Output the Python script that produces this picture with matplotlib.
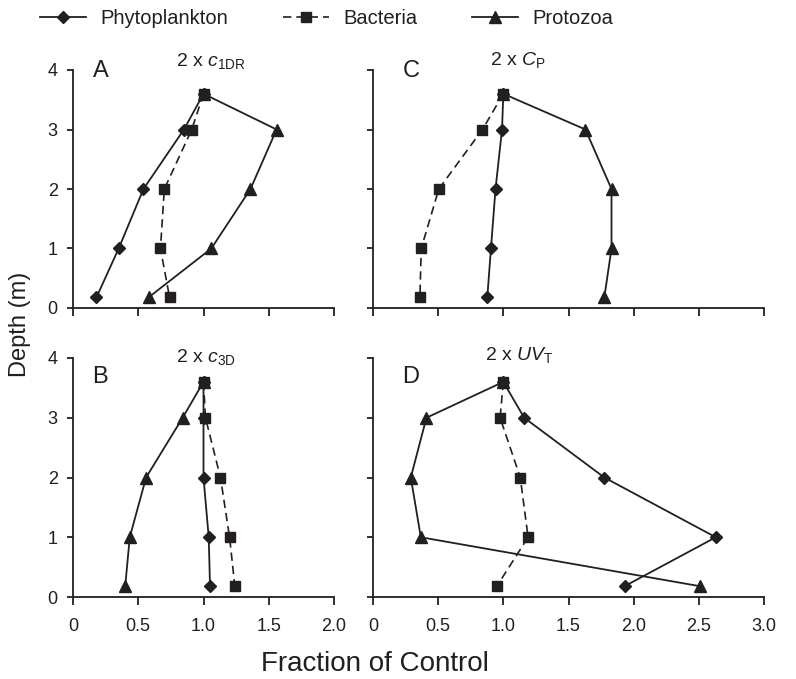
import matplotlib
matplotlib.use("Agg")
import matplotlib.pyplot as plt
from matplotlib.lines import Line2D

# depth of each sample (m), surface sample first
depth = [3.6, 3, 2, 1, 0.18]

# panel A: 2 x c1DR
a_phyto = [1.0, 0.85, 0.54, 0.35, 0.18]
a_bact = [1.0, 0.91, 0.70, 0.67, 0.74]
a_proto = [1.0, 1.56, 1.36, 1.06, 0.58]

# panel B: 2 x c3D
b_phyto = [1.0, 1.0, 1.0, 1.04, 1.05]
b_bact = [1.0, 1.015, 1.13, 1.20, 1.24]
b_proto = [1.0, 0.84, 0.56, 0.435, 0.40]

# panel C: 2 x CP
c_phyto = [1.0, 0.99, 0.94, 0.905, 0.877]
c_bact = [1.0, 0.84, 0.505, 0.37, 0.36]
c_proto = [1.0, 1.63, 1.83, 1.83, 1.775]

# panel D: 2 x UVT
d_phyto = [1.0, 1.16, 1.775, 2.63, 1.93]
d_bact = [1.0, 0.975, 1.13, 1.19, 0.95]
d_proto = [1.0, 0.41, 0.29, 0.367, 2.51]

left_ticks = [0, 0.5, 1.0, 1.5, 2.0]
left_labels = ["0", "0.5", "1.0", "1.5", "2.0"]
right_ticks = [0, 0.5, 1.0, 1.5, 2.0, 2.5, 3.0]
right_labels = ["0", "0.5", "1.0", "1.5", "2.0", "2.5", "3.0"]
depth_ticks = [0, 1, 2, 3, 4]

ink = "#231f20"
plt.rcParams["font.family"] = ["Liberation Sans", "DejaVu Sans"]
plt.rcParams["mathtext.fontset"] = "custom"
plt.rcParams["mathtext.rm"] = "Liberation Sans"
plt.rcParams["mathtext.it"] = "Liberation Sans:italic"
plt.rcParams["text.color"] = ink

W, H = 796, 679
fig = plt.figure(figsize=(W / 100, H / 100), dpi=100)


def add_panel(l, t, r, b):
    # axes placed by pixel box in the figure
    return fig.add_axes([l / W, 1 - b / H, (r - l) / W, (b - t) / H])


phyto_style = dict(color=ink, lw=1.3, marker="D", ms=6, zorder=3)
bact_style = dict(color=ink, lw=1.2, ls=(0, (5, 3)), marker="s", ms=7, zorder=4)
proto_style = dict(color=ink, lw=1.3, marker="^", ms=8, zorder=3)


def draw_panel(ax, phyto, bact, proto, xmax, ticks, labels, letter, letter_y,
               title, title_x, title_y, show_x, show_y):
    ax.plot(phyto, depth, **phyto_style)
    ax.plot(proto, depth, **proto_style)
    ax.plot(bact, depth, **bact_style)
    ax.set_xlim(0, xmax)
    ax.set_ylim(0, 4)
    ax.set_xticks(ticks)
    ax.set_yticks(depth_ticks)
    for s in ["top", "right"]:
        ax.spines[s].set_visible(False)
    for s in ["left", "bottom"]:
        ax.spines[s].set_color(ink)
        ax.spines[s].set_linewidth(1.3)
    ax.tick_params(direction="out", width=1.3, colors=ink, labelsize=13)
    ax.tick_params(axis="x", length=6, pad=9)
    ax.tick_params(axis="y", length=4, pad=7)
    if show_x:
        ax.set_xticklabels(labels)
    else:
        ax.set_xticklabels([])
    if not show_y:
        ax.set_yticklabels([])
    ax.text(0.075, letter_y, letter, transform=ax.transAxes, fontsize=17,
            va="baseline")
    ax.text(title_x, title_y, title, transform=ax.transAxes, fontsize=14,
            ha="center", va="baseline")


axA = add_panel(73, 70, 334, 308)
axC = add_panel(373, 70, 764, 308)
axB = add_panel(73, 358, 334, 597)
axD = add_panel(373, 358, 764, 597)

draw_panel(axA, a_phyto, a_bact, a_proto, 2.0, left_ticks, left_labels,
           "A", 0.97, r"2 x $c_{\mathrm{1DR}}$", 0.53, 1.015, False, True)
draw_panel(axC, c_phyto, c_bact, c_proto, 3.0, right_ticks, right_labels,
           "C", 0.97, r"2 x $C_{\mathrm{P}}$", 0.37, 1.02, False, False)
draw_panel(axB, b_phyto, b_bact, b_proto, 2.0, left_ticks, left_labels,
           "B", 0.895, r"2 x $c_{\mathrm{3D}}$", 0.51, 0.985, True, True)
draw_panel(axD, d_phyto, d_bact, d_proto, 3.0, right_ticks, right_labels,
           "D", 0.895, r"2 x $UV_{\mathrm{T}}$", 0.375, 0.99, True, False)

fig.text(20 / W, 1 - 324 / H, "Depth (m)", rotation=90, fontsize=17,
         ha="center", va="center")
fig.text(375 / W, 1 - 664 / H, "Fraction of Control", fontsize=20,
         ha="center", va="center")

handles = [
    Line2D([], [], **phyto_style),
    Line2D([], [], **bact_style),
    Line2D([], [], **proto_style),
]
fig.legend(handles, ["Phytoplankton", "Bacteria", "Protozoa"], ncol=3,
           loc="upper left", bbox_to_anchor=(28 / W, 1.005), frameon=False,
           fontsize=14.5, handlelength=2.3, handletextpad=0.7,
           columnspacing=2.7, borderaxespad=0.2)

fig.savefig("out.png", dpi=100)
